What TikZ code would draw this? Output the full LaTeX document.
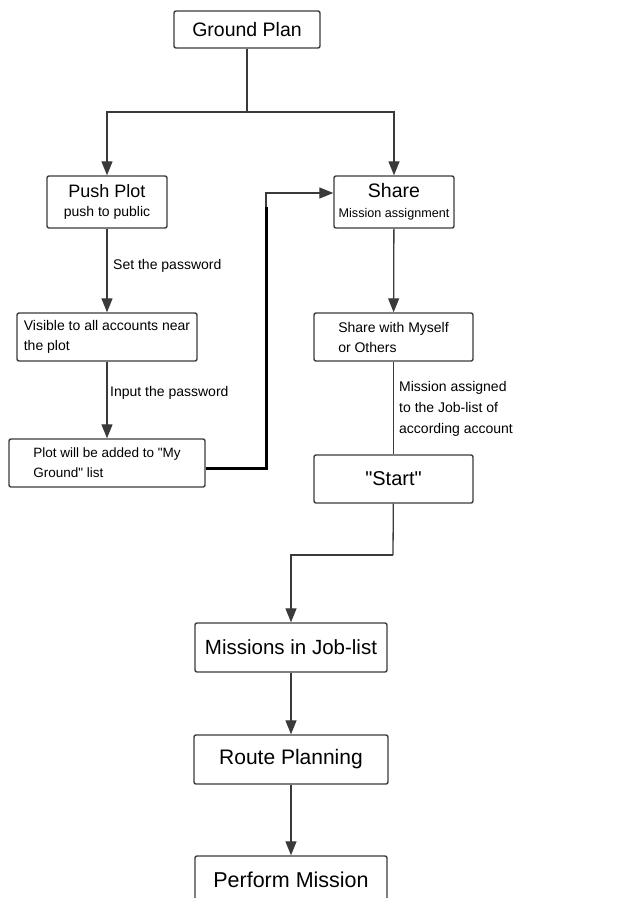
\documentclass[tikz,border=0pt]{standalone}
\usepackage{fontspec}
\setmainfont{Liberation Sans}
\usetikzlibrary{arrows.meta,positioning}
\definecolor{lnGray}{HTML}{3A3A3A}
\newcommand{\fsz}[2]{\fontsize{#1}{#2}\selectfont}

\begin{document}
\begin{tikzpicture}[x=1pt, y=-1pt,
    box/.style={rectangle, draw=lnGray, line width=1.4pt, rounded corners=2pt, inner sep=0pt, text=black},
    arr/.style={draw=lnGray, line width=1.3pt, -{Triangle[length=14pt,width=11pt]}},
    lnk/.style={draw=lnGray, line width=1.3pt},
    lbl/.style={inner sep=0pt, anchor=west, align=left, font=\fsz{14}{20}}]
      \clip (0,0) rectangle (631,898);

      % Top
      \node[box, minimum width=146pt, minimum height=37pt, font=\fsz{19.5}{22}] (ground) at (247,29.5) {Ground Plan};
      \coordinate (split) at (247,112);

      % Left branch
      \node[box, minimum width=120pt, minimum height=52pt, align=center, font=\fsz{14}{19}] (push) at (107,202) {{\fsz{18}{19}Push Plot}\\push to public};
      \node[box, minimum width=180pt, minimum height=48pt, align=left, font=\fsz{14}{20}] (visible) at (107,337) {Visible to all accounts near\\the plot};
      \node[box, minimum width=196pt, minimum height=48pt, align=left, font=\fsz{13.5}{20}] (plot) at (107,463) {Plot will be added to \textquotedbl My\\Ground\textquotedbl{} list};
      \coordinate (bend) at (266,207);

      % Right branch
      \node[box, minimum width=120pt, minimum height=52pt, align=center, font=\fsz{12.6}{20}] (share) at (394,202) {{\fsz{19.5}{20}Share}\\Mission assignment};
      \node[box, minimum width=159pt, minimum height=48pt, align=left, font=\fsz{14}{20}] (sharewith) at (393.5,337) {Share with Myself\\or Others};
      \node[box, minimum width=159pt, minimum height=48pt, font=\fsz{20}{22}] (start) at (393.5,479) {\textquotedbl Start\textquotedbl};
      \coordinate (merge) at (393,555);

      % Bottom chain
      \node[box, minimum width=192pt, minimum height=49pt, font=\fsz{20.5}{22}] (missions) at (291,647.5) {Missions in Job-list};
      \node[box, minimum width=194pt, minimum height=49pt, font=\fsz{21}{22}] (route) at (291,759.5) {Route Planning};
      \node[box, minimum width=192pt, minimum height=48pt, font=\fsz{21.5}{22}] (perform) at (291,880) {Perform Mission};

      % Labels
      \node[lbl] (setpw) at (113,266) {Set the password};
      \node[lbl] (inputpw) at (110,393) {Input the password};
      \node[lbl, font=\fsz{14}{21}] (assigned) at (399,409) {Mission assigned\\to the Job-list of\\according account};

      % Arrows
      \draw[lnk] (ground) -- (split);
      \draw[arr] (split) -| (push);
      \draw[arr] (split) -| (share);
      \draw[arr] (push) -- (visible);
      \draw[arr] (visible) -- (plot);
      \draw[line width=3pt, black] ([yshift=-5pt]plot.east) -| (bend);
      \draw[arr] (bend) |- ([yshift=9pt]share.west);
      \draw[arr] (share) -- (sharewith);
      \draw[lnk] (sharewith) -- (start);
      \draw[lnk] (start) -- (merge);
      \draw[arr] (merge) -| (missions);
      \draw[arr] (missions) -- (route);
      \draw[arr] (route) -- (perform);
\end{tikzpicture}
\end{document}
